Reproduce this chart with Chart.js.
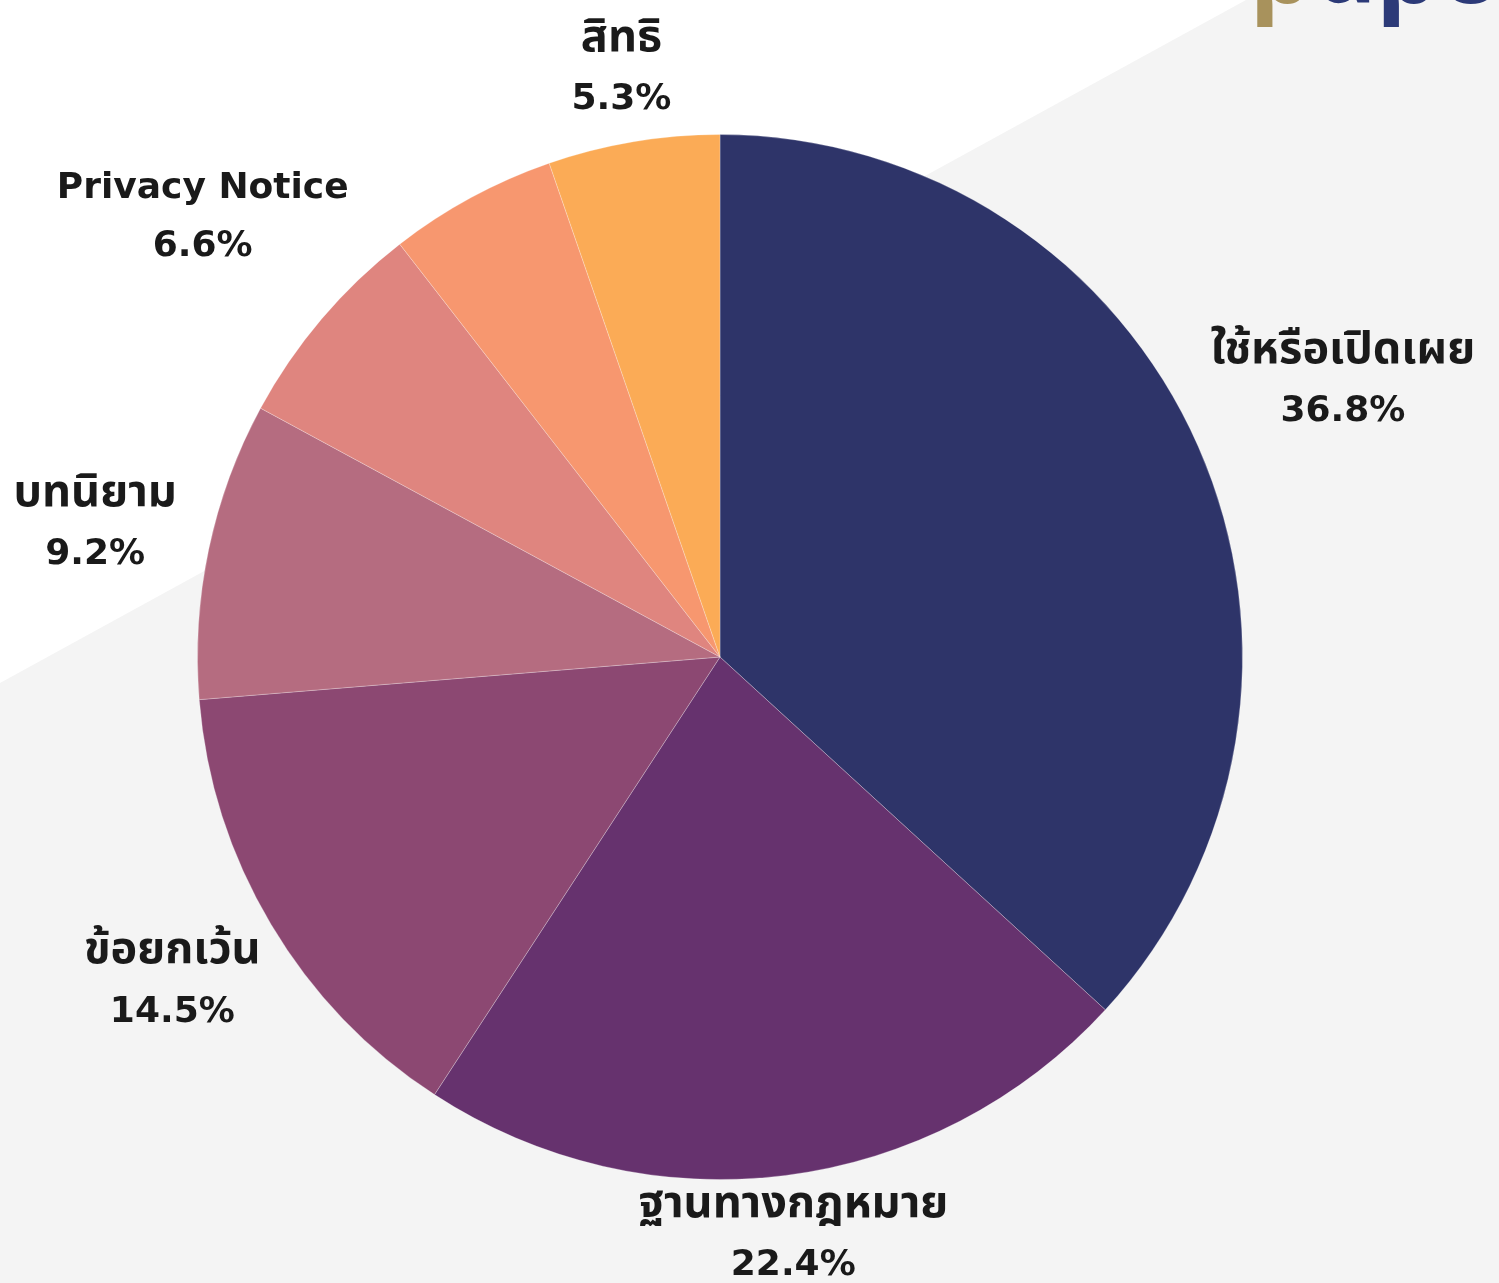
<!DOCTYPE html>
<html>
<head>
<meta charset="utf-8">
<script src="https://cdn.jsdelivr.net/npm/chart.js@4"></script>
<style>
  html, body { margin: 0; padding: 0; background: #fff; }
  #wrap { width: 1499px; height: 1283px; }
</style>
</head>
<body>
<div id="wrap"><canvas id="pie"></canvas></div>
<script>
// data, clockwise from 12 o'clock
const categories = ['ใช้หรือเปิดเผย', 'ฐานทางกฎหมาย', 'ข้อยกเว้น', 'บทนิยาม', 'Privacy Notice', '', 'สิทธิ'];
const shares = [36.8, 22.4, 14.5, 9.2, 6.6, 5.2, 5.3];
const sliceColors = ['#2e3469', '#66326e', '#8c4872', '#b56c80', '#df857f', '#f7976f', '#fbab56'];

// how far outside the rim each label sits (px)
const labelGap = [158, 62, 115, 116, 156, 0, 72];

const thaiFont = 'bold 45px "Noto Sans Thai", "Noto Sans", sans-serif';
const latinFont = 'bold 36px "DejaVu Sans", sans-serif';

// light diagonal band behind the pie + cropped logo
const backdrop = {
  id: 'backdrop',
  beforeDraw(chart) {
    const ctx = chart.ctx;
    const w = chart.width, h = chart.height;
    ctx.save();
    ctx.fillStyle = '#ffffff';
    ctx.fillRect(0, 0, w, h);
    ctx.fillStyle = '#f4f4f4';
    ctx.beginPath();
    ctx.moveTo(0, 683);
    ctx.lineTo(1246, 0);
    ctx.lineTo(w, 0);
    ctx.lineTo(w, h);
    ctx.lineTo(0, h);
    ctx.closePath();
    ctx.fill();

    // pdpc logo, mostly off the top edge
    ctx.font = 'bold 100px "Noto Sans"';
    ctx.textBaseline = 'alphabetic';
    ctx.textAlign = 'left';
    ctx.fillStyle = '#a8925c';
    ctx.fillText('p', 1250, 3);
    const pw = ctx.measureText('p').width;
    ctx.fillStyle = '#2c3a78';
    ctx.fillText('dpc', 1250 + pw, 3);
    ctx.restore();
  }
};

// two-line labels outside the slices
const outerLabels = {
  id: 'outerLabels',
  afterDatasetsDraw(chart) {
    const ctx = chart.ctx;
    const arcs = chart.getDatasetMeta(0).data;
    ctx.save();
    ctx.fillStyle = '#1a1a1a';
    ctx.textAlign = 'center';
    ctx.textBaseline = 'middle';
    arcs.forEach((arc, i) => {
      if (!categories[i]) return;
      const mid = (arc.startAngle + arc.endAngle) / 2;
      const r = arc.outerRadius + labelGap[i];
      const x = arc.x + Math.cos(mid) * r;
      const y = arc.y + Math.sin(mid) * r;
      ctx.font = /[\u0E00-\u0E7F]/.test(categories[i]) ? thaiFont : latinFont;
      ctx.fillText(categories[i], x, y - 29);
      ctx.font = latinFont;
      ctx.fillText(shares[i].toFixed(1) + '%', x, y + 29);
    });
    ctx.restore();
  }
};

new Chart(document.getElementById('pie'), {
  type: 'pie',
  data: {
    labels: categories,
    datasets: [{
      data: shares,
      backgroundColor: sliceColors,
      borderColor: 'rgba(255,255,255,0.25)',
      borderWidth: 1
    }]
  },
  options: {
    responsive: true,
    maintainAspectRatio: false,
    animation: false,
    layout: { padding: { top: 134, bottom: 103, left: 197, right: 256 } },
    plugins: {
      legend: { display: false },
      tooltip: { enabled: false }
    }
  },
  plugins: [backdrop, outerLabels]
});
</script>
</body>
</html>
